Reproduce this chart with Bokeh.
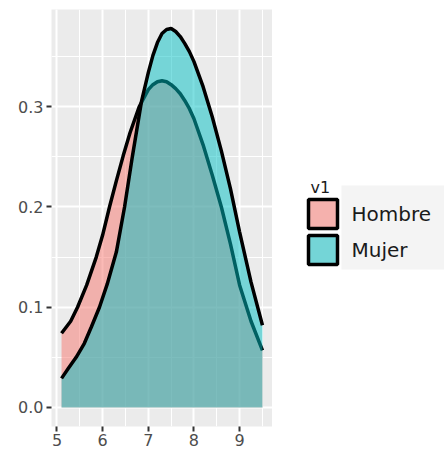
from bokeh.plotting import figure
from bokeh.layouts import row
from bokeh.models import (Range1d, SingleIntervalTicker, NumeralTickFormatter,
                          ColumnDataSource, BoxAnnotation)
from bokeh.core.properties import value
from bokeh.embed import file_html
from bokeh.resources import INLINE

# ---- data ----
groups = ["Hombre", "Mujer"]
legend_title = "v1"
hombre_x = [5.1, 5.3, 5.45, 5.65, 5.86, 6.0, 6.15, 6.3, 6.45, 6.6, 6.8, 7.0, 7.1, 7.2,
            7.3, 7.4, 7.5, 7.6, 7.7, 7.8, 7.9, 8.0, 8.2, 8.4, 8.6, 8.8, 9.0, 9.25, 9.5]
hombre_y = [0.074, 0.086, 0.100, 0.122, 0.150, 0.172, 0.200, 0.226, 0.251, 0.274, 0.300,
            0.317, 0.322, 0.325, 0.326, 0.325, 0.322, 0.318, 0.313, 0.306, 0.298, 0.288,
            0.262, 0.232, 0.200, 0.163, 0.122, 0.086, 0.057]
mujer_x = [5.1, 5.25, 5.42, 5.6, 5.75, 5.93, 6.1, 6.3, 6.48, 6.65, 6.85, 7.0, 7.1, 7.2,
           7.3, 7.4, 7.5, 7.6, 7.7, 7.8, 7.9, 8.0, 8.2, 8.4, 8.6, 8.8, 9.0, 9.25, 9.5]
mujer_y = [0.029, 0.039, 0.050, 0.064, 0.080, 0.100, 0.123, 0.155, 0.200, 0.250, 0.305,
           0.334, 0.351, 0.364, 0.373, 0.377, 0.378, 0.375, 0.370, 0.363, 0.355, 0.345,
           0.320, 0.290, 0.256, 0.218, 0.175, 0.125, 0.082]
fill_colors = ["#F8766D", "#00BFC4"]
key_colors = ["#F5B1AD", "#74D5D7"]

FONT = "DejaVu Sans"
TOP, FH, BOT = 9, 417, 24       # frame top border, frame height, bottom axis area

p = figure(frame_width=221, frame_height=FH, output_backend="svg", toolbar_location=None,
           x_range=Range1d(4.88, 9.72), y_range=Range1d(-0.019, 0.397),
           min_border_left=51, min_border_right=0, min_border_top=TOP, min_border_bottom=0)
p.background_fill_color = "#EBEBEB"
p.border_fill_color = "white"
p.outline_line_color = None

p.xaxis.ticker = SingleIntervalTicker(interval=1, num_minor_ticks=2)
p.yaxis.ticker = SingleIntervalTicker(interval=0.1, num_minor_ticks=2)
p.yaxis.formatter = NumeralTickFormatter(format="0.0")
for ax in (p.xaxis, p.yaxis):
    ax.axis_line_color = None
    ax.major_tick_line_color = "#333333"
    ax.major_tick_line_width = 2
    ax.major_tick_out = 5
    ax.major_tick_in = 0
    ax.minor_tick_line_color = None
    ax.major_label_text_color = "#4D4D4D"
    ax.major_label_text_font = FONT
    ax.major_label_text_font_size = "16px"
p.xaxis.major_label_standoff = 2
p.yaxis.major_label_standoff = 3

p.xgrid.grid_line_color = "white"
p.ygrid.grid_line_color = "white"
p.xgrid.grid_line_width = 2
p.ygrid.grid_line_width = 2
p.xgrid.minor_grid_line_color = "white"
p.ygrid.minor_grid_line_color = "white"
p.xgrid.minor_grid_line_width = 1
p.ygrid.minor_grid_line_width = 1

series = [(hombre_x, hombre_y), (mujer_x, mujer_y)]
for (xs, ys), col in zip(series, fill_colors):
    src = ColumnDataSource(dict(x=xs, y=ys, z=[0] * len(xs)))
    p.varea(x="x", y1="z", y2="y", source=src, fill_color=col, fill_alpha=0.5)
    p.line(x="x", y="y", source=src, line_color="black", line_width=3.5)

# ---- legend panel: ranges in page pixels (y downwards) ----
X0, X1 = 272, 444
lg = figure(frame_width=X1 - X0, frame_height=FH, output_backend="svg", toolbar_location=None,
            x_range=Range1d(X0, X1), y_range=Range1d(TOP + FH, TOP),
            x_axis_location=None, y_axis_location=None,
            min_border_left=0, min_border_right=0, min_border_top=TOP, min_border_bottom=BOT)
lg.outline_line_color = None
lg.background_fill_color = "white"
lg.border_fill_color = "white"
lg.grid.visible = False
lg.add_layout(BoxAnnotation(left=341, right=X1, top=185, bottom=269, level="underlay",
                            fill_color="#F4F4F4", fill_alpha=1.0, line_color=None))

key_left, key_right, key_size = 308, 337, 29
key_tops = [199, 235]
lsrc = ColumnDataSource(dict(
    left=[key_left] * len(groups), right=[key_right] * len(groups),
    top=key_tops, bottom=[t + key_size for t in key_tops],
    color=key_colors[:len(groups)], label=groups,
    lx=[351] * len(groups), ly=[t + key_size / 2 for t in key_tops]))
lg.quad(left="left", right="right", top="top", bottom="bottom", source=lsrc,
        fill_color="color", line_color="black", line_width=3.5)
lg.text(x="lx", y="ly", text="label", source=lsrc, text_font=value(FONT),
        text_font_size="20px", text_color="#1A1A1A", text_baseline="middle",
        text_align="left")
lg.text(x=[310], y=[187], text=[legend_title], text_font=value(FONT),
        text_font_size="16px", text_color="#1A1A1A", text_baseline="alphabetic",
        text_align="left")

layout = row(p, lg)
open("out.html", "w").write(file_html(layout, INLINE))
